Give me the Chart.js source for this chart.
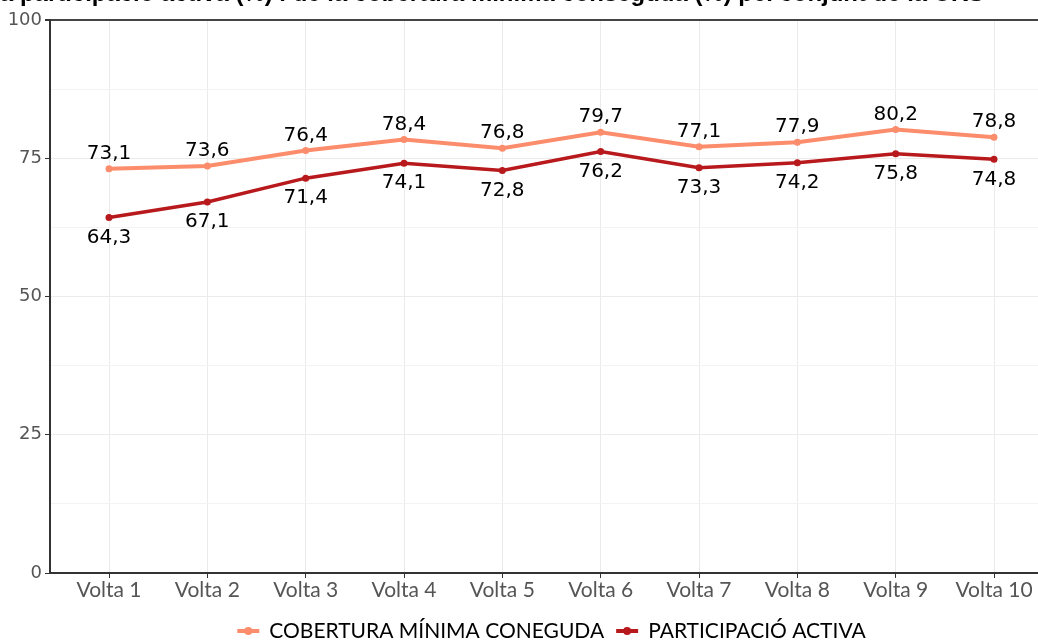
<!DOCTYPE html>
<html>
<head>
<meta charset="utf-8">
<script src="https://cdn.jsdelivr.net/npm/chart.js@4"></script>
<style>
  html, body { margin: 0; padding: 0; background: #fff; overflow: hidden; }
  #wrap { position: relative; width: 1100px; height: 641px; }
  #title {
    position: absolute; left: 0; top: -17px; white-space: nowrap;
    font-family: "Liberation Sans", sans-serif; font-weight: bold; font-size: 20px;
    line-height: 20px; color: #000; z-index: 2;
  }
  canvas { position: absolute; left: 0; top: 0; }
</style>
</head>
<body>
<div id="wrap">
  <div id="title">a participació activa (%) i de la cobertura mínima conseguda (%) pel conjunt de la UKS</div>
  <canvas id="chart" width="1100" height="641"></canvas>
</div>
<script>
// ===========================
// Data
// ===========================
const voltes = ['Volta 1', 'Volta 2', 'Volta 3', 'Volta 4', 'Volta 5',
                'Volta 6', 'Volta 7', 'Volta 8', 'Volta 9', 'Volta 10'];
const cobertura     = [73.1, 73.6, 76.4, 78.4, 76.8, 79.7, 77.1, 77.9, 80.2, 78.8];
const participacio  = [64.3, 67.1, 71.4, 74.1, 72.8, 76.2, 73.3, 74.2, 75.8, 74.8];
const yTicks = [0, 25, 50, 75, 100];

const COL_COB = '#FC8D6C';
const COL_PART = '#B8191C';

// fit title width to the reference
const titleEl = document.getElementById('title');
titleEl.style.fontSize = (20 * 985 / titleEl.getBoundingClientRect().width) + 'px';

function toPoints(arr) {
  return arr.map((v, i) => ({ x: i + 1, y: v }));
}

// value labels: above for cobertura, below for participació
const valueLabels = {
  id: 'valueLabels',
  afterDatasetsDraw(chart) {
    const ctx = chart.ctx;
    ctx.save();
    ctx.font = '20px "DejaVu Sans"';
    ctx.fillStyle = '#000';
    ctx.textAlign = 'center';
    ctx.textBaseline = 'middle';
    chart.data.datasets.forEach((ds, di) => {
      const meta = chart.getDatasetMeta(di);
      meta.data.forEach((pt, i) => {
        const txt = ds.data[i].y.toFixed(1).replace('.', ',');
        const dy = ds.labelPos === 'above' ? -15 : 20;
        ctx.fillText(txt, pt.x, pt.y + dy);
      });
    });
    ctx.restore();
  }
};

// bottom legend: line + dot key, centred under the plot panel
const bottomLegend = {
  id: 'bottomLegend',
  afterDraw(chart) {
    const ctx = chart.ctx;
    const area = chart.chartArea;
    const keyW = 22, keyGap = 10, itemGap = 12;
    ctx.save();
    ctx.font = '21px Lato';
    ctx.textBaseline = 'middle';
    const items = chart.data.datasets.map(ds => ({
      ds, w: ctx.measureText(ds.label).width
    }));
    const total = items.reduce((s, it) => s + keyW + keyGap + it.w, 0) + itemGap * (items.length - 1);
    let x = (area.left + area.right) / 2 - total / 2;
    const y = 631;
    items.forEach(it => {
      const c = it.ds.borderColor;
      ctx.strokeStyle = c; ctx.lineWidth = 4;
      ctx.beginPath(); ctx.moveTo(x, y); ctx.lineTo(x + keyW, y); ctx.stroke();
      ctx.fillStyle = c;
      ctx.beginPath(); ctx.arc(x + keyW / 2, y, 4, 0, Math.PI * 2); ctx.fill();
      x += keyW + keyGap;
      ctx.fillStyle = '#000';
      ctx.fillText(it.ds.label, x, y);
      x += it.w + itemGap;
    });
    ctx.restore();
  }
};

new Chart(document.getElementById('chart'), {
  type: 'line',
  data: {
    datasets: [
      {
        label: 'COBERTURA MÍNIMA CONEGUDA',
        data: toPoints(cobertura),
        borderColor: COL_COB,
        backgroundColor: COL_COB,
        borderWidth: 4,
        pointRadius: 3.5,
        pointBorderWidth: 0,
        labelPos: 'above',
      },
      {
        label: 'PARTICIPACIÓ ACTIVA',
        data: toPoints(participacio),
        borderColor: COL_PART,
        backgroundColor: COL_PART,
        borderWidth: 3.5,
        pointRadius: 3.5,
        pointBorderWidth: 0,
        labelPos: 'below',
      }
    ]
  },
  options: {
    responsive: false,
    animation: false,
    layout: { padding: { left: 0, right: 47, top: 20, bottom: 30 } },
    plugins: {
      tooltip: { enabled: false },
      legend: { display: false }
    },
    scales: {
      x: {
        type: 'linear',
        min: 0.4,
        max: 10.6,
        afterBuildTicks(scale) {
          scale.ticks = voltes.map((_, i) => ({ value: i + 1 }));
        },
        afterFit(scale) { scale.height = 38; },
        grid: { color: '#EBEBEB', lineWidth: 1, tickColor: '#333', tickLength: 5 },
        border: { color: '#333', width: 2 },
        ticks: {
          color: '#555',
          font: { family: 'Lato', size: 21 },
          padding: 0,
          maxRotation: 0,
          autoSkip: false,
          callback: v => voltes[Math.round(v) - 1] || ''
        }
      },
      y: {
        min: 0,
        max: 100,
        afterBuildTicks(scale) {
          const t = [];
          for (let v = 0; v <= 100; v += 12.5) t.push({ value: v });
          scale.ticks = t;
        },
        afterFit(scale) { scale.width = 50; },
        grid: {
          color: c => c.tick && c.tick.value === 100 ? '#444' : (c.tick && c.tick.value % 25 === 0 ? '#EBEBEB' : '#F3F3F3'),
          lineWidth: c => c.tick && c.tick.value === 100 ? 2 : 1,
          tickColor: c => c.tick && c.tick.value % 25 === 0 ? '#333' : 'rgba(0,0,0,0)',
          tickLength: 5,
        },
        border: { color: '#333', width: 2 },
        ticks: {
          color: '#555',
          font: { family: 'DejaVu Sans', size: 18 },
          padding: 3,
          autoSkip: false,
          callback: v => yTicks.includes(v) ? String(v) : ''
        }
      }
    }
  },
  plugins: [valueLabels, bottomLegend]
});
</script>
</body>
</html>
